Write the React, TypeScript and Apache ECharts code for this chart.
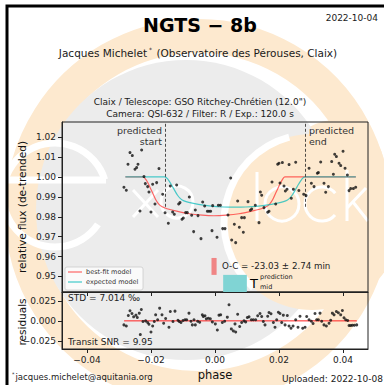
import React, { useEffect, useRef } from 'react';
import * as echarts from 'echarts';

// ---- data ----
const mainX = [-0.02844,-0.02771,-0.02719,-0.02656,-0.02583,-0.025,-0.02448,-0.02406,-0.02292,-0.02344,-0.02219,-0.02177,-0.02104,-0.02063,-0.02,-0.01948,-0.01875,-0.01823,-0.0175,-0.01635,-0.0156,-0.01458,-0.01396,-0.01323,-0.01271,-0.01198,-0.01135,-0.01094,-0.01031,-0.0099,-0.00917,-0.00865,-0.00802,-0.00729,-0.00667,-0.00615,-0.00531,-0.00438,-0.00385,-0.00323,-0.0024,-0.00188,-0.00135,-0.00094,-0.00073,0.00063,0.00104,0.00167,0.0024,0.00313,0.00406,0.0049,0.00521,0.00646,0.00604,0.00708,0.0076,0.00833,0.00917,0.00885,0.01031,0.01104,0.01146,0.0126,0.01375,0.01417,0.01458,0.01531,0.01646,0.01688,0.01781,0.01896,0.01958,0.02,0.02031,0.02104,0.02156,0.02198,0.0225,0.02313,0.02385,0.02448,0.02521,0.0262,0.02771,0.02844,0.02938,0.0301,0.03094,0.03198,0.03229,0.03302,0.03406,0.03458,0.03542,0.03646,0.03698,0.0374,0.03792,0.03875,0.03927,0.04,0.04063,0.04135,0.04188,0.0424,0.04323,0.04396];
const mainY = [0.99481,0.9933,1.00637,1.01223,1.01072,1.00385,1.00469,1.00637,1.01357,0.98291,1.00017,0.99665,0.99514,0.99246,0.98241,0.99631,0.98643,0.99715,1.00419,0.99129,0.982,0.97672,0.99548,0.98241,0.98124,0.99598,0.98643,0.9871,0.97873,0.9794,0.98208,0.98208,0.98995,0.98074,0.97253,0.98342,0.98057,0.96901,0.98744,0.98543,0.98275,0.98275,0.98275,0.97303,0.98559,0.96968,0.98576,0.98576,0.97404,0.97404,0.9809,0.9995,0.96834,0.967,0.97621,0.98794,0.97471,0.97956,0.97956,0.97219,0.9876,0.98325,0.98392,0.98576,0.97705,0.99246,0.99079,0.98459,0.98224,0.98275,0.99749,0.98643,1.00637,1.00687,0.99698,1.0072,0.99548,0.99296,0.9938,1.0062,0.98928,0.9938,1.00737,0.9932,0.99129,0.99062,1.00436,0.99682,0.99514,1.00184,1.00218,1.00754,0.99682,0.99229,0.99514,1.00771,1.00134,1.01139,1.01022,1.00687,1.0057,1.0129,1.00436,1.00101,0.99313,0.99414,0.99414,0.99481];

const resX = [-0.02844,-0.02771,-0.02708,-0.02656,-0.02594,-0.02542,-0.02469,-0.02427,-0.02365,-0.02302,-0.02333,-0.0225,-0.02167,-0.02104,-0.02063,-0.02,-0.01948,-0.01896,-0.01854,-0.01792,-0.01729,-0.01656,-0.01604,-0.01542,-0.01438,-0.01396,-0.01313,-0.0125,-0.01156,-0.01115,-0.01063,-0.01,-0.00938,-0.00885,-0.00813,-0.0075,-0.00708,-0.00656,-0.00615,-0.00542,-0.00479,-0.00396,-0.00365,-0.00313,-0.00271,-0.00208,-0.00146,-0.00083,0.0001,0.00073,0.00125,0.00177,0.00229,0.00302,0.00385,0.00438,0.0051,0.00573,0.00646,0.00625,0.00708,0.00771,0.00833,0.00906,0.00958,0.0101,0.01063,0.01135,0.01198,0.01271,0.01333,0.01406,0.01458,0.0151,0.01563,0.01646,0.01688,0.0175,0.01823,0.01875,0.01927,0.01979,0.02031,0.02083,0.02135,0.02188,0.0226,0.02313,0.02375,0.02438,0.02521,0.02594,0.02656,0.0274,0.02813,0.02865,0.02938,0.0301,0.03063,0.03125,0.03177,0.03229,0.03281,0.03333,0.03406,0.03479,0.03563,0.03615,0.03667,0.03719,0.03792,0.03854,0.03927,0.03979,0.04031,0.04083,0.04146,0.04188,0.0424,0.04292,0.04354,0.04427];
const resY = [-0.005,-0.0063,0.0067,0.0125,0.0092,0.005,0.0071,0.0042,0.0096,0.0142,-0.0171,-0.0008,0,-0.0021,-0.0042,-0.0138,-0.0063,-0.0008,0.0075,0.0013,0.0158,0.0075,-0.0029,0.0029,-0.0079,0.0117,-0.0008,0.0121,0.0008,-0.0008,-0.0021,0.0004,0.0013,0.0013,0.0096,-0.0004,-0.005,0.0013,-0.005,-0.0004,-0.0017,0.0075,0.0054,0.0063,0.0025,0.0033,0.0025,-0.0013,-0.0038,-0.0113,0.0071,0.0075,-0.0021,-0.0004,0.0046,0.02,-0.01,-0.0125,-0.0138,-0.0038,0.0083,-0.0071,-0.0021,0,-0.0013,0.0042,0.005,0.0013,0.0013,0.0013,0.0063,0.0092,0.0054,-0.0008,-0.005,0.0058,0.0104,0.0088,-0.0021,-0.0079,0.0013,0.0108,0.0092,-0.0021,0.0071,-0.005,0.0067,-0.0063,-0.0092,-0.0063,0.0013,-0.0079,0.0058,-0.0092,-0.0079,0.0054,0.0013,-0.0004,-0.0033,0.0092,0.0013,0.0013,0.0096,-0.0004,-0.005,-0.0063,-0.0029,0.0008,0.0096,0.0075,0.0117,0.01,0.0075,0.0129,0.0038,0.0013,0.0004,-0.0058,-0.0058,-0.0054,-0.0054,-0.005];

const fitX = [-0.028,-0.0225,-0.0215,-0.0205,-0.0195,-0.0185,-0.0175,-0.0165,-0.015,-0.012,-0.008,-0.004,-0.0004,0.0035,0.0075,0.0115,0.0145,0.016,0.017,0.018,0.019,0.02,0.021,0.0218,0.044];
const fitY = [1,1,0.9985,0.9955,0.992,0.9885,0.9862,0.985,0.984,0.9828,0.9815,0.9808,0.9805,0.9808,0.9815,0.9828,0.984,0.985,0.9862,0.9885,0.992,0.9955,0.9985,1,1];
const expX = [-0.028,-0.0157,-0.0147,-0.0137,-0.0127,-0.0117,-0.0107,-0.0097,-0.0082,-0.0052,-0.0012,0.0028,0.0062,0.0096,0.0136,0.0176,0.0206,0.0221,0.0231,0.0241,0.0251,0.0261,0.0271,0.0281,0.044];
const expY = [1,1,0.9988,0.9963,0.9935,0.9908,0.989,0.988,0.9872,0.9862,0.9853,0.9849,0.9848,0.9849,0.9853,0.9862,0.9872,0.988,0.989,0.9908,0.9935,0.9963,0.9988,1,1];
const resLineX = [-0.0284, 0.0443];
const resLineY = [0, 0];

const xTicks = [-0.04, -0.02, 0, 0.02, 0.04];
const yTicks = [0.95, 0.96, 0.97, 0.98, 0.99, 1.0, 1.01, 1.02];
const resTicks = [-0.025, 0, 0.025];

const predStart = -0.0156;
const predEnd = 0.0281;
const dashBottom = 0.985;
const tFit = -0.0003;
const tFitErr = 0.0008;
const tPred = 0.00625;
const tPredErr = 0.0037;
const ocBoxY = [0.9508, 0.9593];
const predBoxY = [0.9422, 0.9508];

const X_MIN = -0.0478, X_MAX = 0.0478;
const Y_MIN = 0.9422, Y_MAX = 1.0276;
const R_MIN = -0.035, R_MAX = 0.0359;

const FONT = 'DejaVu Sans';
const PEACH = '#fde9cf';
const GREY = '#ececec';

const fmt = (d: number) => (v: number) => (v < -1e-9 ? '\u2212' : '') + Math.abs(v).toFixed(d);

function txt(text: string, x: number, y: number, size: number, extra: any = {}, rotation = 0) {
  return {
    type: 'text', x, y, z: 100, silent: true, rotation,
    style: { text, fontSize: size, fontFamily: FONT, fill: '#1a1a1a', align: 'left', verticalAlign: 'middle', ...extra },
  };
}

export default function App() {
  const ref = useRef<HTMLDivElement>(null);
  useEffect(() => {
    if (!ref.current) return;
    const chart = echarts.init(ref.current, null, { renderer: 'svg' });
    const W = '#ffffff';
    const bg: any[] = [
      // outer peach ring
      { type: 'circle', z: -20, silent: true, shape: { cx: 198, cy: 212, r: 176 }, style: { fill: 'none', stroke: PEACH, lineWidth: 34 } },
      // right-hand peach fill (top right)
      { type: 'circle', z: -20, silent: true, shape: { cx: 335, cy: 170, r: 50 }, style: { fill: PEACH } },
      // grey disc
      { type: 'circle', z: -19, silent: true, shape: { cx: 186, cy: 210, r: 150 }, style: { fill: GREY } },
      // big peach "c"
      { type: 'circle', z: -18, silent: true, shape: { cx: 312, cy: 222, r: 88 }, style: { fill: PEACH } },
      { type: 'arc', z: -17, silent: true, shape: { cx: 312, cy: 222, r: 88, startAngle: 2.3, endAngle: 4.45, clockwise: true }, style: { fill: 'none', stroke: W, lineWidth: 7 } },
      // e
      { type: 'arc', z: -17, silent: true, shape: { cx: 55, cy: 195, r: 52, startAngle: 0.6, endAngle: 5.98, clockwise: true }, style: { fill: 'none', stroke: W, lineWidth: 7 } },
      { type: 'line', z: -17, silent: true, shape: { x1: 3, y1: 180, x2: 106, y2: 180 }, style: { stroke: W, lineWidth: 7 } },
      // x o
      { type: 'line', z: -17, silent: true, shape: { x1: 133, y1: 190, x2: 158, y2: 217 }, style: { stroke: W, lineWidth: 3 } },
      { type: 'line', z: -17, silent: true, shape: { x1: 158, y1: 190, x2: 133, y2: 217 }, style: { stroke: W, lineWidth: 3 } },
      { type: 'circle', z: -17, silent: true, shape: { cx: 177, cy: 202, r: 16 }, style: { fill: 'none', stroke: W, lineWidth: 3 } },
      // l o c k
      { type: 'line', z: -17, silent: true, shape: { x1: 257, y1: 172, x2: 257, y2: 221 }, style: { stroke: W, lineWidth: 3 } },
      { type: 'circle', z: -17, silent: true, shape: { cx: 282, cy: 204, r: 17 }, style: { fill: 'none', stroke: W, lineWidth: 3 } },
      { type: 'arc', z: -17, silent: true, shape: { cx: 322, cy: 204, r: 17, startAngle: 0.7, endAngle: 5.6, clockwise: true }, style: { fill: 'none', stroke: W, lineWidth: 3 } },
      { type: 'line', z: -17, silent: true, shape: { x1: 347, y1: 170, x2: 347, y2: 221 }, style: { stroke: W, lineWidth: 3 } },
      { type: 'line', z: -17, silent: true, shape: { x1: 347, y1: 208, x2: 366, y2: 188 }, style: { stroke: W, lineWidth: 3 } },
      { type: 'line', z: -17, silent: true, shape: { x1: 353, y1: 202, x2: 368, y2: 221 }, style: { stroke: W, lineWidth: 3 } },
    ];
    const fg: any[] = [
      { type: 'rect', z: 100, silent: true, shape: { x: 7, y: 6, width: 420, height: 420 }, style: { fill: 'none', stroke: '#000', lineWidth: 3 } },
      txt('NGTS \u2212 8b', 200, 25, 19, { fontWeight: 'bold', align: 'center', fill: '#000' }),
      txt('2022-10-04', 378, 18, 9, { align: 'right' }),
      {
        type: 'text', x: 198, y: 53, z: 100, silent: true,
        style: {
          text: '{a|Jacques Michelet}{s|*}{a| (Observatoire des Pérouses, Claix)}',
          align: 'center', verticalAlign: 'middle', fontFamily: FONT,
          rich: {
            a: { fontSize: 10.5, fontFamily: FONT, fill: '#1a1a1a' },
            s: { fontSize: 6, fontFamily: FONT, fill: '#1a1a1a', padding: [0, 1, 7, 2] },
          },
        },
      },
      txt('Claix / Telescope: GSO Ritchey-Chrétien (12.0")', 200, 102, 9, { align: 'center' }),
      txt('Camera: QSI-632 / Filter: R / Exp.: 120.0 s', 200, 114, 9, { align: 'center' }),
      txt('predicted', 162, 130, 9.5, { align: 'right', fill: '#333' }),
      txt('start', 162, 141, 9.5, { align: 'right', fill: '#333' }),
      txt('predicted', 309, 130, 9.5, { fill: '#333' }),
      txt('end', 309, 141, 9.5, { fill: '#333' }),
      // legend
      { type: 'rect', z: 100, silent: true, shape: { x: 65, y: 267, width: 78, height: 23, r: 2 }, style: { fill: 'rgba(255,255,255,0.75)', stroke: '#cccccc', lineWidth: 0.8 } },
      { type: 'line', z: 101, silent: true, shape: { x1: 68, y1: 272, x2: 82, y2: 272 }, style: { stroke: 'rgba(255,40,40,0.7)', lineWidth: 1.2 } },
      { type: 'line', z: 101, silent: true, shape: { x1: 68, y1: 282, x2: 82, y2: 282 }, style: { stroke: 'rgba(0,185,185,0.75)', lineWidth: 1.2 } },
      txt('best-fit model', 86, 272, 6.5, { fill: '#333' }),
      txt('expected model', 86, 282, 6.5, { fill: '#333' }),
      txt('O-C = -23.03 \u00b1 2.74 min', 222, 266, 8.7, { fill: '#222' }),
      txt('T', 250, 283, 13, { fill: '#000000' }),
      txt('prediction', 260, 277, 6.5, { fill: '#222' }),
      txt('mid', 260, 287, 6.5, { fill: '#222' }),
      txt('STD = 7.014 \u2030', 68, 298, 9, { fill: '#222' }),
      txt('Transit SNR = 9.95', 68, 342, 9, { fill: '#222' }),
      txt('relative flux (de-trended)', 22, 207, 10.5, { align: 'center', fill: '#111' }, Math.PI / 2),
      txt('residuals', 22, 322, 10.5, { align: 'center', fill: '#111' }, Math.PI / 2),
      txt('phase', 215, 375, 11.5, { align: 'center', fill: '#111' }),
      {
        type: 'text', x: 12, y: 377, z: 100, silent: true,
        style: {
          text: '{s|*}{a|jacques.michelet@aquitania.org}', align: 'left', verticalAlign: 'middle', fontFamily: FONT,
          rich: {
            a: { fontSize: 8.5, fontFamily: FONT, fill: '#1a1a1a' },
            s: { fontSize: 5, fontFamily: FONT, fill: '#1a1a1a', padding: [0, 1, 6, 0] },
          },
        },
      },
      txt('Uploaded: 2022-10-08', 383, 379, 9, { align: 'right' }),
    ];

    const axisCommon = {
      type: 'value',
      splitLine: { show: false },
      axisLine: { show: true, onZero: false, lineStyle: { color: '#222', width: 1 } },
    };
    const option: any = {
      animation: false,
      backgroundColor: '#ffffff',
      graphic: { elements: [...bg, ...fg] },
      grid: [
        { left: 62, top: 122, width: 306, height: 170, show: true, borderColor: '#222', borderWidth: 1, backgroundColor: 'transparent' },
        { left: 62, top: 292, width: 306, height: 57, show: true, borderColor: '#222', borderWidth: 1, backgroundColor: 'transparent' },
      ],
      xAxis: [
        { ...axisCommon, gridIndex: 0, min: X_MIN, max: X_MAX,
          axisTick: { show: true, length: 4, customValues: xTicks, lineStyle: { color: '#222' } },
          axisLabel: { show: false } },
        { ...axisCommon, gridIndex: 1, min: X_MIN, max: X_MAX,
          axisTick: { show: true, length: 4, customValues: xTicks, lineStyle: { color: '#222' } },
          axisLabel: { show: true, customValues: xTicks, formatter: fmt(2), fontSize: 9, fontFamily: FONT, color: '#222', margin: 6 } },
      ],
      yAxis: [
        { ...axisCommon, gridIndex: 0, min: Y_MIN, max: Y_MAX,
          axisTick: { show: true, length: 4, customValues: yTicks, lineStyle: { color: '#222' } },
          axisLabel: { show: true, customValues: yTicks, formatter: fmt(2), fontSize: 9, fontFamily: FONT, color: '#222', margin: 6 } },
        { ...axisCommon, gridIndex: 1, min: R_MIN, max: R_MAX,
          axisTick: { show: true, length: 4, customValues: resTicks, lineStyle: { color: '#222' } },
          axisLabel: { show: true, customValues: resTicks, formatter: fmt(3), fontSize: 9, fontFamily: FONT, color: '#222', margin: 6 } },
      ],
      series: [
        {
          name: 'best-fit model', type: 'line', xAxisIndex: 0, yAxisIndex: 0, z: 3,
          data: fitX.map((x, i) => [x, fitY[i]]), showSymbol: false, smooth: 0.3,
          lineStyle: { color: 'rgba(255,40,40,0.7)', width: 1.2 },
          markArea: {
            silent: true,
            data: [
              [{ coord: [tFit - tFitErr, ocBoxY[0]], itemStyle: { color: '#f08585', opacity: 1 } }, { coord: [tFit + tFitErr, ocBoxY[1]] }],
              [{ coord: [tPred - tPredErr, predBoxY[0]], itemStyle: { color: '#80d4d4', opacity: 1 } }, { coord: [tPred + tPredErr, predBoxY[1]] }],
            ],
          },
        },
        {
          name: 'expected model', type: 'line', xAxisIndex: 0, yAxisIndex: 0, z: 3,
          data: expX.map((x, i) => [x, expY[i]]), showSymbol: false, smooth: 0.3,
          lineStyle: { color: 'rgba(0,185,185,0.7)', width: 1.2 },
        },
        {
          name: 'data', type: 'scatter', xAxisIndex: 0, yAxisIndex: 0, z: 5,
          data: mainX.map((x, i) => [x, mainY[i]]), symbolSize: 3, itemStyle: { color: '#111' },
          markLine: {
            silent: true, symbol: ['none', 'none'], label: { show: false },
            lineStyle: { color: '#222', type: [3, 2], width: 0.8 },
            data: [
              [{ coord: [predStart, dashBottom] }, { coord: [predStart, Y_MAX] }],
              [{ coord: [predEnd, dashBottom] }, { coord: [predEnd, Y_MAX] }],
            ],
          },
        },
        {
          name: 'zero', type: 'line', xAxisIndex: 1, yAxisIndex: 1, z: 3,
          data: resLineX.map((x, i) => [x, resLineY[i]]), showSymbol: false,
          lineStyle: { color: '#ff2020', width: 1 },
        },
        {
          name: 'residuals', type: 'scatter', xAxisIndex: 1, yAxisIndex: 1, z: 5,
          data: resX.map((x, i) => [x, resY[i]]), symbolSize: 3, itemStyle: { color: '#111' },
        },
      ],
    };
    chart.setOption(option);
    return () => chart.dispose();
  }, []);
  return <div ref={ref} style={{ position: 'fixed', left: 0, top: 0, width: 384, height: 385 }} />;
}
